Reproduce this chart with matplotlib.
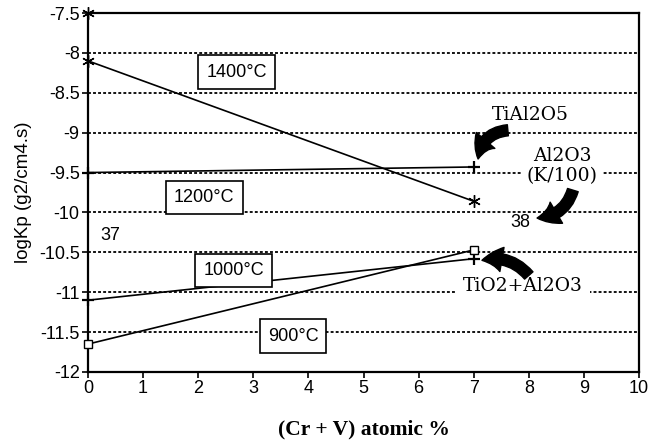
import matplotlib
matplotlib.use("Agg")
import matplotlib.pyplot as plt

# ---- data ----
x_pts = [0, 7]
k1400 = [-8.10, -9.86]
k1200 = [-9.50, -9.43]
k1000 = [-11.10, -10.58]
k900 = [-11.65, -10.47]
extra_x = [0]
extra_y = [-7.5]

xticks = list(range(0, 11))
yticks = [-12, -11.5, -11, -10.5, -10, -9.5, -9, -8.5, -8, -7.5]
ytick_labels = ["-12", "-11.5", "-11", "-10.5", "-10", "-9.5", "-9", "-8.5", "-8", "-7.5"]
grid_levels = [-11.5, -11, -10.5, -10, -9.5, -9, -8.5, -8]

temp_labels = ["1400°C", "1200°C", "1000°C", "900°C"]
temp_label_pos = [(2.70, -8.24), (2.11, -9.81), (2.64, -10.73), (3.72, -11.55)]

sans = ["Liberation Sans", "DejaVu Sans"]
serif = ["DejaVu Serif"]

fig = plt.figure(figsize=(6.54, 4.46), dpi=100)
ax = fig.add_axes([88 / 654, 1 - 372 / 446, (639 - 88) / 654, (372 - 13) / 446])

ax.set_xlim(0, 10)
ax.set_ylim(-12, -7.5)

for g in grid_levels:
    ax.axhline(g, color="black", lw=1.3, ls=(0, (1.6, 1.2)), zorder=1)

lc = dict(color="black", lw=1.2, zorder=3, clip_on=False)
ax.plot(x_pts, k1400, marker=(6, 2, 0), ms=9, mew=1.0, **lc)
ax.plot(extra_x, extra_y, ls="none", marker=(6, 2, 0), ms=9, mew=1.0, color="black", zorder=4, clip_on=False)
ax.plot(x_pts, k1200, marker="+", ms=8, mew=1.6, **lc)
ax.plot(x_pts, k1000, marker="+", ms=8, mew=1.6, **lc)
ax.plot(x_pts, k900, marker="s", ms=6, mew=1.0, mfc="white", **lc)

for t, (tx, ty) in zip(temp_labels, temp_label_pos):
    ax.text(tx, ty, t, ha="center", va="center", fontsize=13, family=sans, zorder=5,
            bbox=dict(boxstyle="square,pad=0.45", fc="white", ec="black", lw=1.2))

ax.text(0.40, -10.29, "37", ha="center", va="center", fontsize=13, family=sans, zorder=5)
ax.text(7.84, -10.13, "38", ha="center", va="center", fontsize=13, family=sans, zorder=5,
        bbox=dict(boxstyle="square,pad=0.1", fc="white", ec="none"))

ax.text(8.02, -8.78, "TiAl2O5", ha="center", va="center", fontsize=13.5, family=serif, zorder=5,
        bbox=dict(boxstyle="square,pad=0.2", fc="white", ec="none"))
ax.text(8.60, -9.42, "Al2O3\n(K/100)", ha="center", va="center", fontsize=13.5, family=serif,
        linespacing=1.2, zorder=5, bbox=dict(boxstyle="square,pad=0.25", fc="white", ec="none"))
ax.text(7.90, -10.92, "TiO2+Al2O3", ha="center", va="center", fontsize=13.5, family=serif, zorder=5,
        bbox=dict(boxstyle="square,pad=0.35", fc="white", ec="none"))

astyle = "simple,head_width=1.1,head_length=0.9,tail_width=0.5"
ax.annotate("", xy=(7.08, -9.33), xytext=(7.62, -8.97),
            arrowprops=dict(arrowstyle=astyle, mutation_scale=16, fc="black", ec="black",
                            connectionstyle="arc3,rad=0.4", shrinkA=0, shrinkB=0), zorder=6)
ax.annotate("", xy=(8.15, -10.07), xytext=(8.80, -9.72),
            arrowprops=dict(arrowstyle=astyle, mutation_scale=16, fc="black", ec="black",
                            connectionstyle="arc3,rad=-0.35", shrinkA=0, shrinkB=0), zorder=6)
ax.annotate("", xy=(7.15, -10.60), xytext=(8.00, -10.79),
            arrowprops=dict(arrowstyle=astyle, mutation_scale=16, fc="black", ec="black",
                            connectionstyle="arc3,rad=0.3", shrinkA=0, shrinkB=0), zorder=6)

ax.set_xticks(xticks)
ax.set_xticklabels([str(v) for v in xticks], fontsize=13, family=sans)
ax.set_yticks(yticks)
ax.set_yticklabels(ytick_labels, fontsize=13, family=sans)
ax.tick_params(axis="both", direction="out", length=4, width=1.2, pad=2)

for s in ax.spines.values():
    s.set_linewidth(1.6)

ax.set_ylabel("logKp (g2/cm4.s)", fontsize=13.5, family=sans, labelpad=5)
ax.set_xlabel("(Cr + V) atomic %", fontsize=15.5, family=["Liberation Serif", "DejaVu Serif"],
              fontweight="bold", labelpad=16)

fig.savefig("out.png", dpi=100)
